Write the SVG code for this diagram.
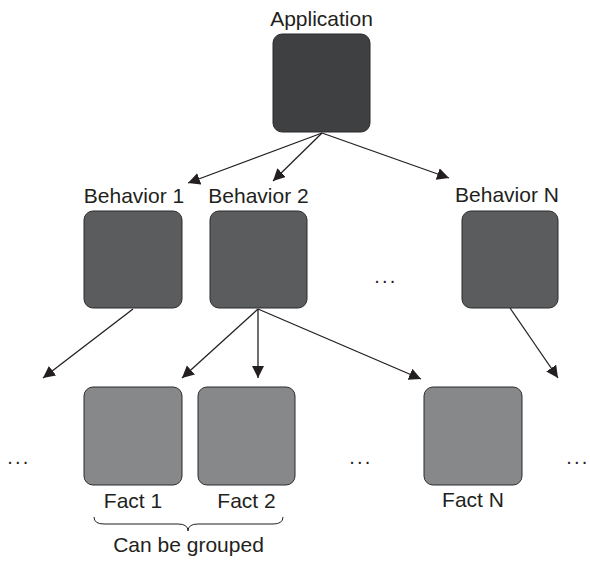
<svg xmlns="http://www.w3.org/2000/svg" width="590" height="561" viewBox="0 0 590 561">
<style>
text{font-family:"Liberation Sans",Arial,sans-serif;font-size:21px;fill:#231f20;text-anchor:middle}
.app{fill:#3f4042;stroke:#2b2b2c;stroke-width:1}
.beh{fill:#5a5c5e;stroke:#2b2b2c;stroke-width:1}
.fact{fill:#87888a;stroke:#2b2b2c;stroke-width:1}
.edge{stroke:#231f20;stroke-width:1.3;fill:none;marker-end:url(#arr)}
.dots{letter-spacing:2.2px;font-size:20px}
</style>
<defs>
<marker id="arr" markerUnits="userSpaceOnUse" markerWidth="13" markerHeight="13" refX="12" refY="6" orient="auto">
<path d="M0,0 L12,6 L0,12 z" fill="#231f20"/>
</marker>
</defs>
<rect width="590" height="561" fill="#fff"/>
<g id="connectors">
<line class="edge" x1="322" y1="133" x2="188" y2="183"/>
<line class="edge" x1="322" y1="133" x2="273" y2="181"/>
<line class="edge" x1="322" y1="133" x2="449" y2="178"/>
<line class="edge" x1="133" y1="309" x2="43" y2="378"/>
<line class="edge" x1="258" y1="309" x2="182" y2="378"/>
<line class="edge" x1="258" y1="309" x2="258" y2="378"/>
<line class="edge" x1="258" y1="309" x2="421" y2="379"/>
<line class="edge" x1="510" y1="308" x2="558" y2="378"/>
</g>
<g id="application">
<rect class="app" x="273" y="34" width="97" height="98" rx="9"/>
<text x="321.5" y="26">Application</text>
</g>
<g id="behavior1">
<rect class="beh" x="84" y="211" width="98" height="97" rx="9"/>
<text x="134" y="203">Behavior 1</text>
</g>
<g id="behavior2">
<rect class="beh" x="210" y="211" width="97" height="97" rx="9"/>
<text x="258.5" y="203">Behavior 2</text>
</g>
<g id="behaviorN">
<rect class="beh" x="462" y="211" width="96" height="97" rx="9"/>
<text x="507" y="202">Behavior N</text>
</g>
<g id="fact1">
<rect class="fact" x="84" y="387" width="98" height="98" rx="9"/>
<text x="133" y="508">Fact 1</text>
</g>
<g id="fact2">
<rect class="fact" x="198" y="387" width="97" height="98" rx="9"/>
<text x="246.5" y="508">Fact 2</text>
</g>
<g id="factN">
<rect class="fact" x="424" y="387" width="98" height="98" rx="9"/>
<text x="473" y="507">Fact N</text>
</g>
<g id="group">
<path d="M94,517 Q94,524 104,524 L178,524 Q188,524 188,531 Q188,524 198,524 L273,524 Q283,524 283,517" fill="none" stroke="#231f20" stroke-width="1"/>
<text x="188.5" y="552">Can be grouped</text>
</g>
<g id="ellipses">
<text class="dots" x="19" y="464">...</text>
<text class="dots" x="386" y="283">...</text>
<text class="dots" x="361" y="464">...</text>
<text class="dots" x="578" y="464">...</text>
</g>
</svg>
